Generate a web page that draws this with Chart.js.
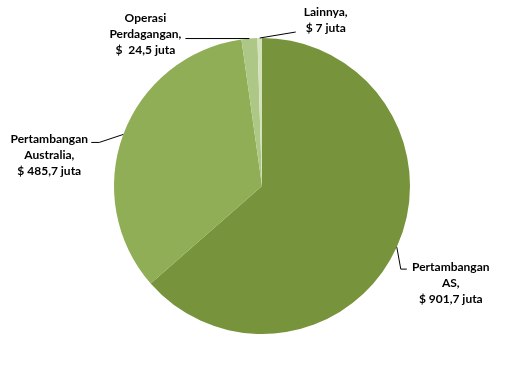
<!DOCTYPE html>
<html><head><meta charset="utf-8">
<script src="https://cdn.jsdelivr.net/npm/chart.js@4"></script>
<style>html,body{margin:0;padding:0;background:#fff}#wrap{width:525px;height:374px}</style>
</head><body><div id="wrap"><canvas id="c" width="525" height="374"></canvas></div>
<script>
const categories = ["Pertambangan AS", "Pertambangan Australia", "Operasi Perdagangan", "Lainnya"];
const values = [901.7, 485.7, 24.5, 7];
const labelLines = [
  ["Pertambangan", "AS,", "$ 901,7 juta"],
  ["Pertambangan", "Australia,", "$ 485,7 juta"],
  ["Operasi", "Perdagangan,", "$  24,5 juta"],
  ["Lainnya,", "$ 7 juta"]
];
const colors = ["#77933C", "#8FAE55", "#ADC786", "#D4E2BC"];
// label placement relative to slice anchor: text centre dx, first line dy, leader path points
const labelPlace = [
  {dx: 54, dy: 20, path: [[4, 22], [10, 22]]},
  {dx: -74, dy: 5, path: [[-24, 8], [-32, 8]]},
  {dx: -104, dy: -20, path: [[-64, 0]]},
  {dx: 66, dy: -26, path: [[36, -6]]}
];
const FONT = 'bold 12px Lato, "Open Sans", sans-serif';
const LH = 16;
const labelPlugin = {
  id: 'pieLabels',
  afterDatasetsDraw(chart) {
    const ctx = chart.ctx;
    const meta = chart.getDatasetMeta(0);
    ctx.save();
    ctx.font = FONT;
    ctx.fillStyle = '#000';
    ctx.strokeStyle = '#000';
    ctx.lineWidth = 1;
    ctx.textAlign = 'center';
    ctx.textBaseline = 'middle';
    meta.data.forEach((arc, i) => {
      const mid = (arc.startAngle + arc.endAngle) / 2;
      const ax = arc.x + Math.cos(mid) * arc.outerRadius;
      const ay = arc.y + Math.sin(mid) * arc.outerRadius;
      const p = labelPlace[i];
      ctx.beginPath();
      ctx.moveTo(ax, ay);
      p.path.forEach(pt => ctx.lineTo(ax + pt[0], ay + pt[1]));
      ctx.stroke();
      labelLines[i].forEach((t, k) => {
        ctx.fillText(t, ax + p.dx, ay + p.dy + k * LH);
      });
    });
    ctx.restore();
  }
};
new Chart(document.getElementById('c'), {
  type: 'pie',
  data: {
    labels: categories,
    datasets: [{data: values, backgroundColor: colors, borderWidth: 0}]
  },
  options: {
    responsive: false,
    animation: false,
    layout: {padding: {left: 114, right: 115, top: 38, bottom: 40}},
    plugins: {legend: {display: false}, tooltip: {enabled: false}}
  },
  plugins: [labelPlugin]
});
</script>
</body></html>
